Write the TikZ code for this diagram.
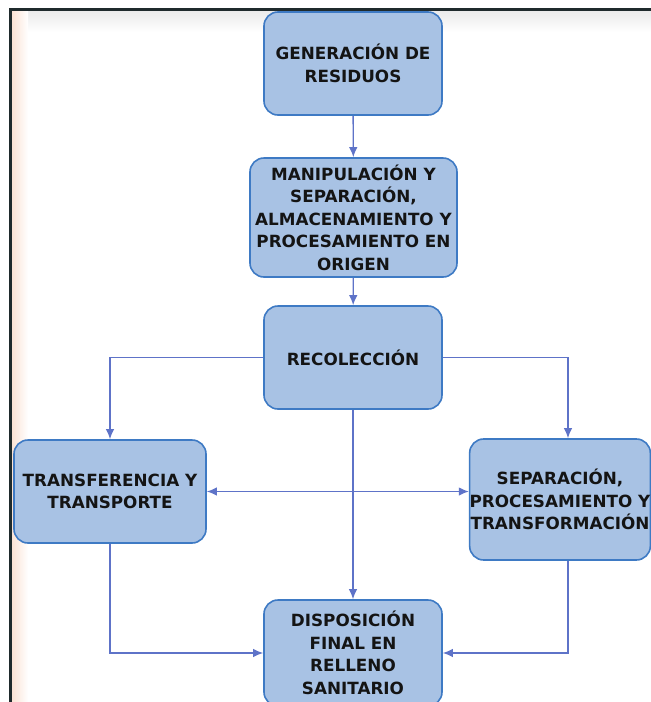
\documentclass[tikz,border=0pt]{standalone}
\usepackage{fontspec}
\setmainfont{DejaVu Sans}
\usetikzlibrary{arrows.meta}

\begin{document}
\begin{tikzpicture}[x=1pt, y=-1pt, >={Latex[length=10pt,width=8.5pt]},
    caja/.style={draw=borde, fill=fondo, line width=1.6pt, rounded corners=14pt,
        align=center, inner sep=0pt, text=black!92,
        font=\fontsize{16.8}{22.5}\selectfont\bfseries},
    flecha/.style={linea, line width=1.4pt, ->}]

    % 色の設定
    \definecolor{fondo}{HTML}{A8C2E4}
    \definecolor{borde}{HTML}{3E7AC4}
    \definecolor{linea}{HTML}{5E73C8}
    \definecolor{marco}{HTML}{1F2A2C}
    \definecolor{naranja}{HTML}{FBE3D5}

    \useasboundingbox (0,0) rectangle (651,702);
    \clip (0,0) rectangle (651,702);

    % 画面の枠
    \fill[white] (0,0) rectangle (651,702);
    \shade[top color=black!8, bottom color=white] (12,11) rectangle (651,32);
    \shade[left color=naranja, right color=white] (12,11) rectangle (28,702);
    \fill[marco] (9,8) rectangle (651,11);
    \fill[marco] (9,8) rectangle (12,702);

    % 各工程のボックス
    \node[caja, minimum width=178pt, minimum height=103pt] (generacion) at (353,63.5)
        {GENERACIÓN DE\\RESIDUOS};
    \node[caja, minimum width=207pt, minimum height=119pt] (manipulacion) at (353.5,217.5)
        {MANIPULACIÓN Y\\SEPARACIÓN,\\ALMACENAMIENTO Y\\PROCESAMIENTO EN\\ORIGEN};
    \node[caja, minimum width=178pt, minimum height=103pt] (recoleccion) at (353,357.5)
        {RECOLECCIÓN};
    \node[caja, minimum width=192pt, minimum height=103pt] (transferencia) at (110,491.5)
        {TRANSFERENCIA Y\\TRANSPORTE};
    \node[caja, minimum width=178pt, minimum height=121pt] (separacion) at (560,499.5)
        {SEPARACIÓN,\\PROCESAMIENTO Y\\TRANSFORMACIÓN};
    \node[caja, minimum width=178pt, minimum height=106pt] (disposicion) at (353,653)
        {DISPOSICIÓN\\FINAL EN\\RELLENO\\SANITARIO};

    % 矢印
    \draw[flecha] (generacion) -- (manipulacion);
    \draw[flecha] (manipulacion) -- (recoleccion);
    \draw[flecha] (recoleccion.west) -| (transferencia.north);
    \draw[flecha] (recoleccion.east) -| ([xshift=8pt]separacion.north);
    \draw[flecha] (recoleccion) -- (disposicion);
    \draw[flecha, <->] (transferencia.east) -- (separacion.west |- transferencia.east);
    \draw[flecha] (transferencia.south) |- (disposicion.west);
    \draw[flecha] ([xshift=8pt]separacion.south) |- (disposicion.east);

\end{tikzpicture}
\end{document}
